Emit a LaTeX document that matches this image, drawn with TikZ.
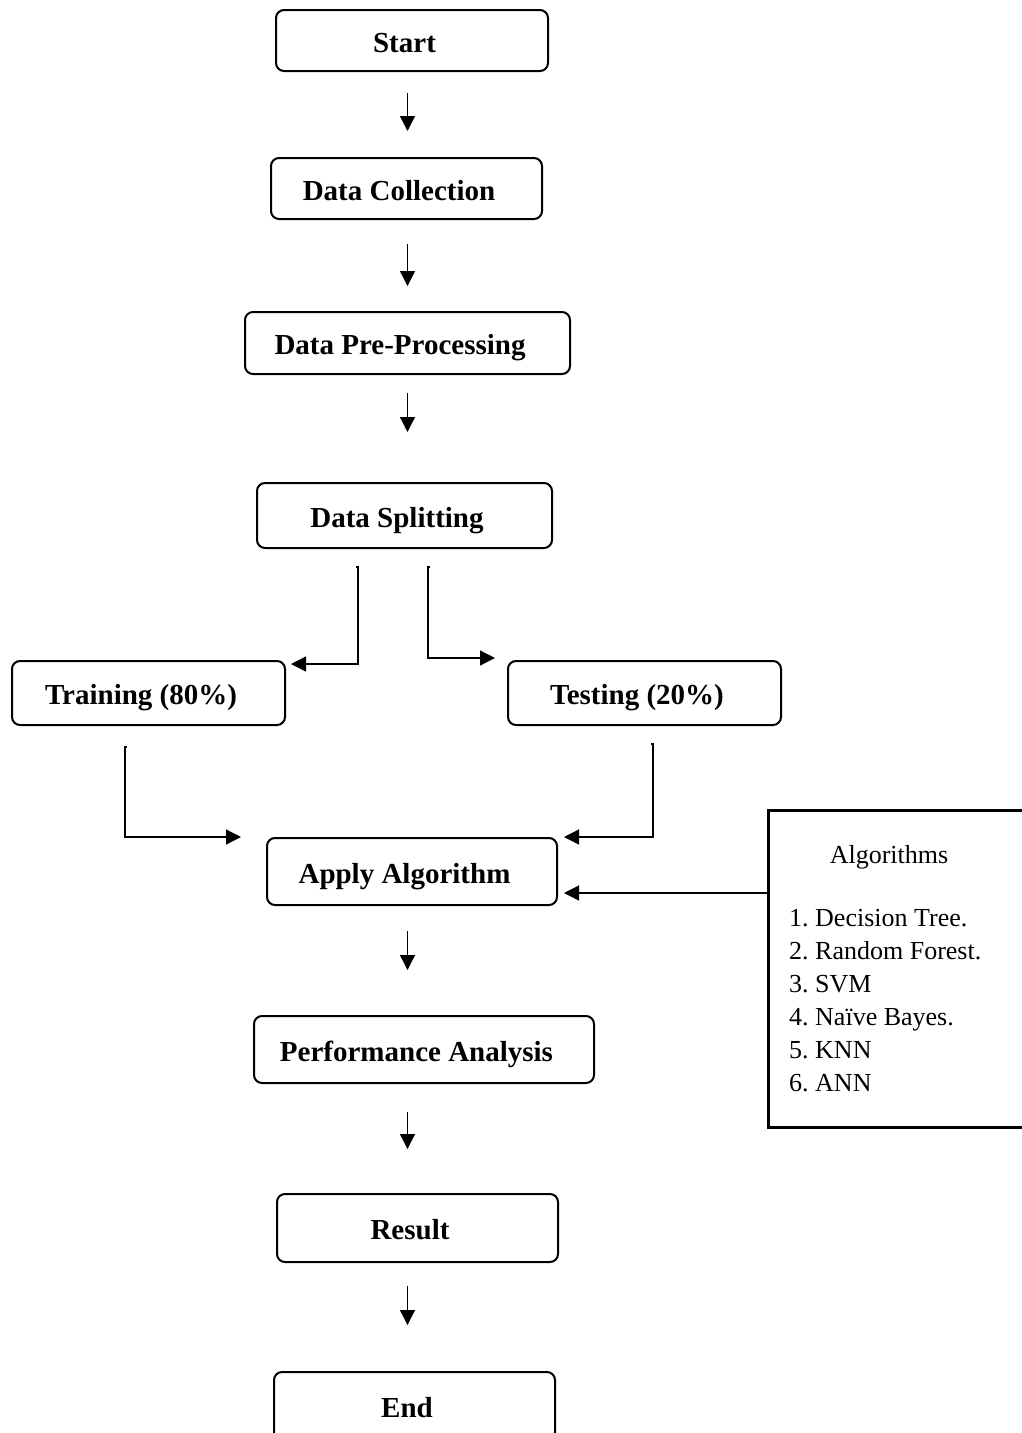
\documentclass[tikz,border=0pt]{standalone}
\usepackage{fontspec}
\setmainfont{Liberation Serif}
\usetikzlibrary{arrows.meta}
\frenchspacing
\tikzset{
  box/.style={draw, line width=2pt, rounded corners=8pt, inner sep=0pt,
    font=\fontsize{29}{34}\selectfont\bfseries, text height=26pt, text depth=3pt},
  arr/.style={line width=1.3pt, -{Triangle[length=15pt,width=15pt]}},
  algbox/.style={draw, line width=3pt, inner sep=0pt, outer sep=0pt},
  algtxt/.style={font=\fontsize{26}{33}\selectfont, inner sep=0pt}
}
\newcommand{\bx}[1]{\hspace*{-15pt}#1}
\begin{document}
\begin{tikzpicture}[x=1pt,y=-1pt]
\useasboundingbox (0,0) rectangle (1022,1433);
\clip (0,0) rectangle (1022,1433);
\fill[white] (0,0) rectangle (1022,1433);
% boxes: centre = ((l+r)/2,(t+b)/2)
\node[box, minimum width=272, minimum height=61] (start) at (412,40.5) {\bx{Start}};
\node[box, minimum width=271, minimum height=61] (dc) at (406.5,188.5) {\bx{Data Collection}};
\node[box, minimum width=325, minimum height=62] (dpp) at (407.5,343) {\bx{Data Pre-Processing}};
\node[box, minimum width=295, minimum height=65] (ds) at (404.5,515.5) {\bx{Data Splitting}};
\node[box, minimum width=273, minimum height=64] (train) at (148.5,693) {\bx{Training (80\%)}};
\node[box, minimum width=273, minimum height=64] (test) at (644.5,693) {\bx{Testing (20\%)}};
\node[box, minimum width=290, minimum height=67] (apply) at (412,871.5) {\bx{Apply Algorithm}};
\node[box, minimum width=340, minimum height=67] (perf) at (424,1049.5) {\bx{Performance Analysis}};
\node[box, minimum width=281, minimum height=68] (result) at (417.5,1228) {\bx{Result}};
\node[box, minimum width=281, minimum height=68, anchor=north] (end) at (414.5,1371) {\bx{End}};
% algorithms box
\node[algbox, minimum width=300, minimum height=317, anchor=north west] (alg) at (768,810) {};
\node[algtxt, anchor=base] (algh) at (889,863) {Algorithms};
\node[algtxt, anchor=north west, align=left] (algl) at (789,909.5) {1. Decision Tree.\\2. Random Forest.\\3. SVM\\4. Naïve Bayes.\\5. KNN\\6. ANN};
% vertical arrows
\coordinate (ax) at (407.5,0);
\draw[arr, shorten <=21pt, shorten >=26pt] (start.south -| ax) -- (dc.north -| ax);
\draw[arr, shorten <=24pt, shorten >=25pt] (dc.south -| ax) -- (dpp.north -| ax);
\draw[arr, shorten <=18pt, shorten >=50pt] (dpp.south -| ax) -- (ds.north -| ax);
\draw[arr, shorten <=25pt, shorten >=45pt] (apply.south -| ax) -- (perf.north -| ax);
\draw[arr, shorten <=28pt, shorten >=44pt] (perf.south -| ax) -- (result.north -| ax);
\draw[arr, shorten <=23pt, shorten >=46pt] (result.south -| ax) -- (end.north -| ax);
% elbow connectors
\coordinate (s1) at (356,567);
\coordinate (s2) at (430,567);
\coordinate (s3) at (127,747);
\coordinate (s4) at (651,744);
\draw[arr] (s1) -- ++(2,0) |- ([xshift=5pt,yshift=-4pt]train.north east);
\draw[arr] (s2) -- ++(-2,0) |- ([xshift=-12pt,yshift=2pt]test.north west);
\draw[arr] (s3) -- ++(-2,0) |- ([xshift=-25pt]apply.north west);
\draw[arr] (s4) -- ++(2,0) |- ([xshift=6pt]apply.north east);
\path ([xshift=6pt,yshift=-21.5pt]apply.east) coordinate (ain);
\draw[arr] (alg.west |- ain) -- (ain);
\end{tikzpicture}
\end{document}
